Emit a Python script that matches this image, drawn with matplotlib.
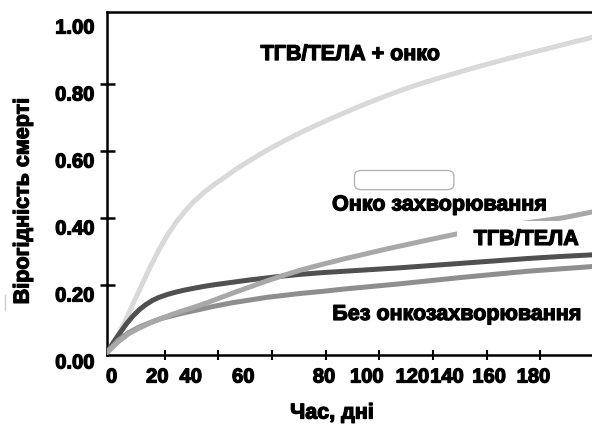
import matplotlib
matplotlib.use('Agg')
import matplotlib.pyplot as plt
import matplotlib.patheffects as pe
from matplotlib.transforms import ScaledTranslation
from matplotlib.patches import FancyBboxPatch, Rectangle
from matplotlib.lines import Line2D

# Дані кривих (час у днях, вірогідність смерті)
x_onko_tgv = [0, 4, 8, 12, 16, 20, 24, 28, 32, 36, 40, 45, 50, 55, 60, 67, 74, 82, 90, 98,
              106, 114, 122, 130, 138, 146, 154, 162, 170, 178, 186, 194, 202, 210, 218, 225]
y_onko_tgv = [0, 0.04, 0.088, 0.145, 0.2, 0.255, 0.305, 0.35, 0.388, 0.42, 0.448, 0.477, 0.502, 0.524, 0.547,
              0.575, 0.602, 0.63, 0.656, 0.68, 0.703, 0.725, 0.746, 0.766, 0.785, 0.802, 0.818, 0.833,
              0.848, 0.862, 0.876, 0.889, 0.902, 0.915, 0.928, 0.939]

x_tgv = [0, 3, 6, 9, 12, 15, 18, 21, 24, 28, 32, 36, 40, 45, 50, 58, 66, 74, 82, 90, 100, 110,
         120, 135, 150, 165, 180, 195, 210, 225]
y_tgv = [0, 0.03, 0.058, 0.085, 0.108, 0.127, 0.142, 0.154, 0.163, 0.172, 0.179, 0.185, 0.19, 0.196,
         0.201, 0.208, 0.215, 0.221, 0.227, 0.232, 0.237, 0.241, 0.245, 0.251, 0.258, 0.265, 0.272,
         0.279, 0.285, 0.29]

x_onko = [0, 5, 10, 15, 20, 25, 30, 35, 40, 45, 50, 55, 60, 67, 74, 82, 90, 100, 110, 120, 130,
          140, 150, 162, 175, 190, 200, 212, 225]
y_onko = [0, 0.03, 0.055, 0.072, 0.087, 0.1, 0.112, 0.123, 0.133, 0.144, 0.156, 0.168, 0.18, 0.196,
          0.212, 0.229, 0.245, 0.262, 0.278, 0.293, 0.308, 0.322, 0.336, 0.352, 0.368, 0.382, 0.39,
          0.401, 0.418]

x_bez = [0, 5, 10, 15, 20, 25, 30, 35, 40, 45, 50, 58, 66, 74, 82, 90, 100, 110, 120, 135, 150,
         165, 180, 195, 210, 225]
y_bez = [0, 0.035, 0.058, 0.075, 0.088, 0.1, 0.108, 0.116, 0.123, 0.13, 0.137, 0.147, 0.155, 0.163,
         0.169, 0.175, 0.181, 0.188, 0.194, 0.203, 0.213, 0.223, 0.232, 0.241, 0.248, 0.255]

# Підписи осей (позиції як на оригіналі)
ytick_vals = [0, 0.2, 0.4, 0.6, 0.8, 1.0]
ytick_labels = ['0.00', '0.20', '0.40', '0.60', '0.80', '1.00']
xtick_label_pos = [2.0, 23.2, 38.7, 63.1, 100.6, 120.4, 141.6, 157.6, 177.2, 197.8]
xtick_labels = ['0', '20', '40', '60', '80', '100', '120', '140', '160', '180']
xtick_marks = [26.8, 51.6, 76.5, 101.4, 126.3, 151.2, 176.1, 201.0]

plt.rcParams['font.family'] = ['Liberation Sans', 'DejaVu Sans']
heavy = [pe.withStroke(linewidth=0.9, foreground='black')]

fig = plt.figure(figsize=(5.92, 4.29), dpi=100)
ax = fig.add_axes([107.3 / 592, (429 - 355) / 429, (592 - 107.3) / 592, (355 - 12) / 429])

ax.plot(x_onko_tgv, y_onko_tgv, color='#d9d9d9', lw=3.6, zorder=2)
ax.plot(x_tgv, y_tgv, color='#505050', lw=3.6, zorder=3)
ax.plot(x_bez, y_bez, color='#8e8e8e', lw=3.6, zorder=3)
ax.plot(x_onko, y_onko, color='#a8a8a8', lw=3.6, zorder=4)

ax.set_xlim(0, 225)
ax.set_ylim(-0.009, 1.015)

for s in ['left', 'bottom', 'top']:
    ax.spines[s].set_linewidth(1.8)
ax.spines['right'].set_visible(False)

# вісь y
ax.set_yticks(ytick_vals)
ax.set_yticklabels(ytick_labels, fontsize=14.5, fontweight='bold')
ax.tick_params(axis='y', direction='inout', length=10.8, width=1.8, pad=4)
yt = ax.yaxis.get_major_ticks()
yt[0].tick1line.set_visible(False)
yt[-1].tick1line.set_visible(False)
for lab in ax.get_yticklabels():
    lab.set_transform(lab.get_transform() + ScaledTranslation(0, -9 / 100, fig.dpi_scale_trans))
    lab.set_path_effects(heavy)

# вісь x
ax.set_xticks(xtick_label_pos)
ax.set_xticklabels(xtick_labels, fontsize=14.5, fontweight='bold')
ax.set_xticks(xtick_marks, minor=True)
ax.tick_params(axis='x', which='major', length=0, pad=9)
ax.tick_params(axis='x', which='minor', direction='inout', length=7, width=1.5)
for lab in ax.get_xticklabels():
    lab.set_path_effects(heavy)

# білий фон під підписом ТГВ/ТЕЛА
ax.add_patch(Rectangle((0.7215, 0.300), 0.27, 0.091, transform=ax.transAxes,
                       fc='white', ec='none', zorder=5))

txt = dict(fontsize=15.5, fontweight='bold', ha='center', va='center', zorder=6, path_effects=heavy)
ax.text(112.7, 0.888, 'ТГВ/ТЕЛА + онко', **txt)
ax.text(154.2, 0.439, 'Онко захворювання', **txt)
ax.text(194.4, 0.336, 'ТГВ/ТЕЛА', **txt)
ax.text(162.3, 0.112, 'Без онкозахворювання', **txt)

ax.add_patch(FancyBboxPatch((0.525, 0.497), 0.175, 0.026, boxstyle='round,pad=0.015',
                            transform=ax.transAxes, fc='none', ec='#b5b5b5', lw=1, zorder=6))

fig.text(23 / 592, 1 - 201 / 429, 'Вірогідність смерті', rotation=90, ha='center', va='center',
         fontsize=15.5, fontweight='bold', path_effects=heavy)
fig.text(332 / 592, 1 - 413 / 429, 'Час, дні', ha='center', va='center', fontsize=15.5,
         fontweight='bold', path_effects=heavy)
fig.add_artist(Line2D([5 / 592, 5 / 592], [1 - 295 / 429, 1 - 310 / 429], color='#cccccc', lw=1))

fig.savefig('out.png', dpi=100)
